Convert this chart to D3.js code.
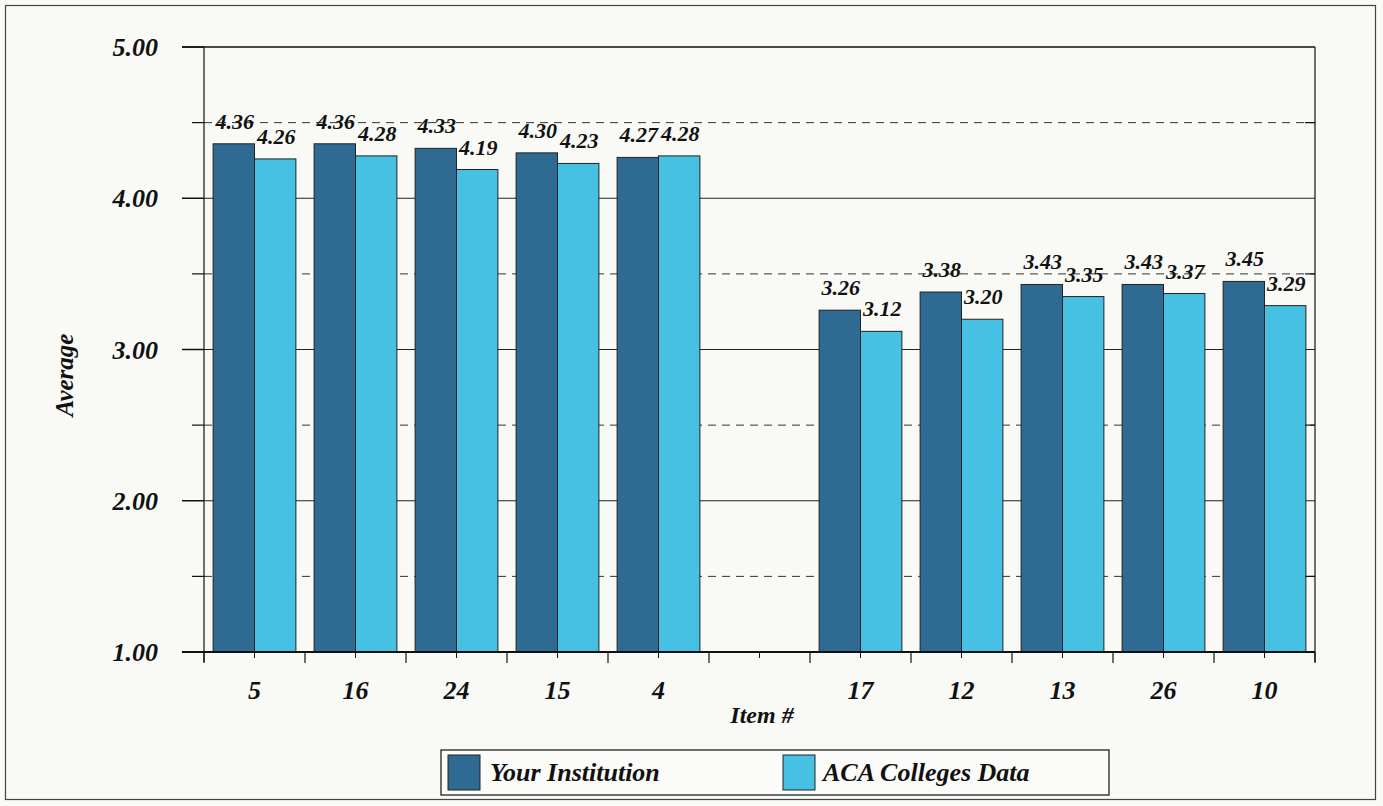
<!DOCTYPE html>
<html>
<head>
<meta charset="utf-8">
<script src="https://cdn.jsdelivr.net/npm/d3@7"></script>
<style>
  html, body { margin: 0; padding: 0; background: #f9f9f6; }
  svg { display: block; }
  text { font-family: "Liberation Serif", "Times New Roman", serif; font-weight: bold; font-style: italic; fill: #111; }
</style>
</head>
<body>
<svg id="chart" width="1383" height="806"></svg>
<script>
const categories = ["5", "16", "24", "15", "4", "", "17", "12", "13", "26", "10"];
const seriesNames = ["Your Institution", "ACA Colleges Data"];
const yourInstitution = [4.36, 4.36, 4.33, 4.30, 4.27, null, 3.26, 3.38, 3.43, 3.43, 3.45];
const acaColleges = [4.26, 4.28, 4.19, 4.23, 4.28, null, 3.12, 3.20, 3.35, 3.37, 3.29];
const yTickLabels = ["1.00", "2.00", "3.00", "4.00", "5.00"];
const yMajor = [1, 2, 3, 4, 5];
const yMinor = [1.5, 2.5, 3.5, 4.5];

const colors = ["#2e6a92", "#47c1e3"];

const svg = d3.select("#chart");
const pLeft = 204, pRight = 1315, pTop = 47, pBottom = 652;

// outer frame
svg.append("rect").attr("x", 5.5).attr("y", 5.5).attr("width", 1370).attr("height", 794)
  .attr("fill", "none").attr("stroke", "#444").attr("stroke-width", 1.2);

const x = d3.scaleBand().domain(categories.map((c, i) => i)).range([pLeft, pRight]).padding(0);
const xs = d3.scaleBand().domain([0, 1]).range([0, x.bandwidth()]).paddingOuter(0.22).paddingInner(0);
const y = d3.scaleLinear().domain([1, 5]).range([pBottom, pTop]);

// gridlines
const g = svg.append("g");
g.selectAll("line.solid").data(yMajor.filter(v => v > 1 && v < 5)).join("line")
  .attr("x1", pLeft).attr("x2", pRight).attr("y1", d => y(d)).attr("y2", d => y(d))
  .attr("stroke", "#222").attr("stroke-width", 1);
g.selectAll("line.dash").data(yMinor).join("line")
  .attr("x1", pLeft).attr("x2", pRight).attr("y1", d => y(d)).attr("y2", d => y(d))
  .attr("stroke", "#333").attr("stroke-width", 1).attr("stroke-dasharray", "8,6");

// bars
const data = [yourInstitution, acaColleges];
data.forEach((vals, s) => {
  svg.append("g").selectAll("rect").data(vals.map((v, i) => ({v, i})).filter(d => d.v != null)).join("rect")
    .attr("x", d => x(d.i) + xs(s))
    .attr("y", d => y(d.v))
    .attr("width", xs.bandwidth())
    .attr("height", d => y(1) - y(d.v))
    .attr("fill", colors[s])
    .attr("stroke", "#222").attr("stroke-width", 1);
});

// plot border lines (top, right)
svg.append("line").attr("x1", 182).attr("x2", pRight).attr("y1", y(5)).attr("y2", y(5)).attr("stroke", "#111").attr("stroke-width", 1.5);
svg.append("line").attr("x1", pRight).attr("x2", pRight).attr("y1", y(5)).attr("y2", y(1) + 10).attr("stroke", "#111").attr("stroke-width", 1.2);

// y axis
const yAxis = svg.append("g");
yAxis.append("line").attr("x1", pLeft).attr("x2", pLeft).attr("y1", y(5)).attr("y2", y(1) + 10).attr("stroke", "#111").attr("stroke-width", 1.2);
yAxis.selectAll("line.maj").data(yMajor).join("line")
  .attr("x1", 182).attr("x2", pLeft).attr("y1", d => y(d)).attr("y2", d => y(d))
  .attr("stroke", "#111").attr("stroke-width", 1.5);
yAxis.selectAll("line.min").data(yMinor).join("line")
  .attr("x1", 192).attr("x2", pLeft).attr("y1", d => y(d)).attr("y2", d => y(d))
  .attr("stroke", "#111").attr("stroke-width", 1.2);
yAxis.selectAll("line.rmin").data(yMinor).join("line")
  .attr("x1", pRight - 10).attr("x2", pRight).attr("y1", d => y(d)).attr("y2", d => y(d))
  .attr("stroke", "#111").attr("stroke-width", 1.2);
yAxis.selectAll("text").data(yMajor).join("text")
  .attr("x", 158).attr("y", d => y(d) + 9).attr("text-anchor", "end")
  .attr("font-size", 26).text((d, i) => yTickLabels[i]);

// x axis
const xAxis = svg.append("g");
xAxis.append("line").attr("x1", 182).attr("x2", pRight).attr("y1", y(1)).attr("y2", y(1)).attr("stroke", "#111").attr("stroke-width", 1.8);
const bounds = categories.map((c, i) => x(i)).concat([pRight]);
xAxis.selectAll("line.maj").data(bounds).join("line")
  .attr("x1", d => d).attr("x2", d => d).attr("y1", y(1)).attr("y2", y(1) + 11)
  .attr("stroke", "#111").attr("stroke-width", 1.2);
xAxis.selectAll("line.min").data(categories.map((c, i) => i)).join("line")
  .attr("x1", d => x(d) + x.bandwidth() / 2).attr("x2", d => x(d) + x.bandwidth() / 2)
  .attr("y1", y(1)).attr("y2", y(1) + 6)
  .attr("stroke", "#111").attr("stroke-width", 1);
xAxis.selectAll("text").data(categories.map((c, i) => ({c, i}))).join("text")
  .attr("x", d => x(d.i) + x.bandwidth() / 2).attr("y", 699).attr("text-anchor", "middle")
  .attr("font-size", 26).text(d => d.c);

// data labels
data.forEach((vals, s) => {
  svg.append("g").selectAll("text").data(vals.map((v, i) => ({v, i})).filter(d => d.v != null)).join("text")
    .attr("x", d => x(d.i) + xs(s) + xs.bandwidth() / 2 + 1)
    .attr("y", d => y(d.v) - 15)
    .attr("text-anchor", "middle")
    .attr("font-size", 22).text(d => d.v.toFixed(2));
});

// axis titles
svg.append("text").attr("x", 762).attr("y", 723).attr("text-anchor", "middle").attr("font-size", 24).text("Item #");
svg.append("text").attr("transform", "translate(73,375) rotate(-90)").attr("text-anchor", "middle").attr("font-size", 25).text("Average");

// legend
const lg = svg.append("g");
lg.append("rect").attr("x", 441).attr("y", 750).attr("width", 668).attr("height", 45)
  .attr("fill", "#fbfbf9").attr("stroke", "#222").attr("stroke-width", 1.3);
const legendX = [448, 783];
const textX = [490, 823];
seriesNames.forEach((name, s) => {
  lg.append("rect").attr("x", legendX[s]).attr("y", 755).attr("width", 32).attr("height", 35)
    .attr("fill", colors[s]).attr("stroke", "#222").attr("stroke-width", 1);
  lg.append("text").attr("x", textX[s]).attr("y", 781).attr("font-size", 26).text(name);
});
</script>
</body>
</html>
